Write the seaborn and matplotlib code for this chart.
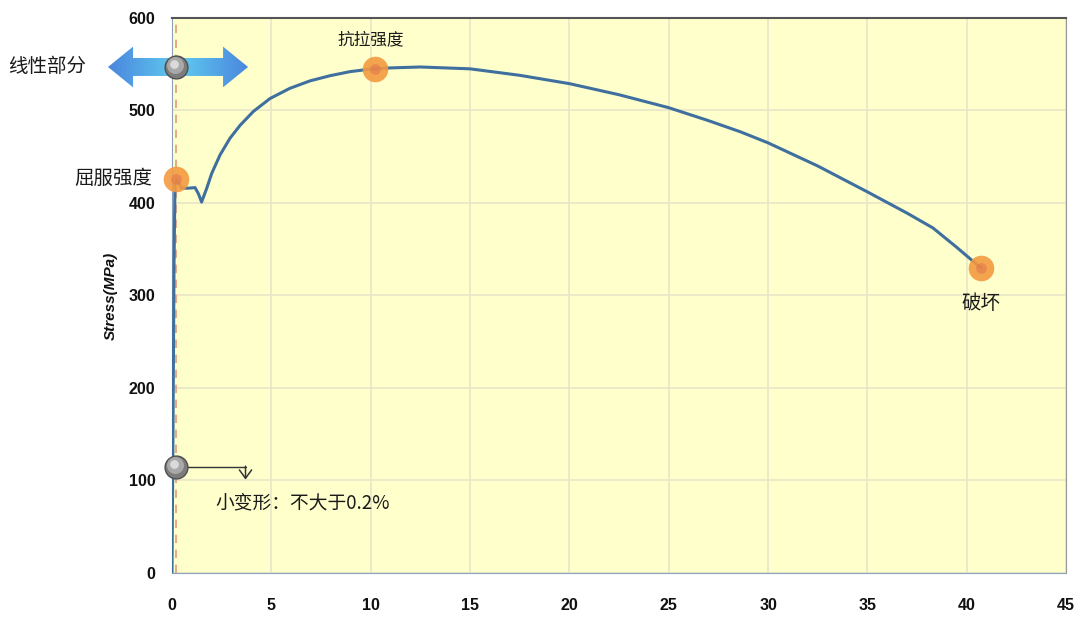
import numpy as np
import matplotlib
matplotlib.use("Agg")
import matplotlib.pyplot as plt
from matplotlib.patches import Polygon
from matplotlib.colors import LinearSegmentedColormap
import seaborn as sns

# Curve: strain (%) vs stress (MPa)
strain = [0, 0.05, 0.1, 0.15, 0.24, 0.49, 0.82, 1.16, 1.33, 1.49, 1.75, 2.0, 2.42, 2.92,
          3.43, 4.1, 4.94, 5.94, 6.95, 7.96, 8.97, 10.1, 11.0, 12.5, 15, 17.5, 20, 22.5,
          25, 27, 28.6, 30, 32.5, 35, 37, 38.3, 39.5, 40.7]
stress = [0, 150, 330, 420, 425, 416, 416, 416.6, 410, 401, 416, 432, 452, 470,
          484, 499, 513, 524, 532, 537.6, 542, 545, 546, 547, 545, 538, 529, 517,
          503, 489, 477, 465, 440, 412, 389, 373, 352, 330]

# Key points
yield_pt = (0.2, 426)
uts_pt = (10.2, 545)
break_pt = (40.7, 330)
linear_pt = (0.2, 547)
small_pt = (0.2, 115)

xticks = list(range(0, 50, 5))
yticks = list(range(0, 700, 100))

sns.set_style("whitegrid")
plt.rcParams['font.family'] = ['Noto Sans CJK SC', 'DejaVu Sans']

fig = plt.figure(figsize=(10.79, 6.19), dpi=100)
ax = fig.add_axes([0.1594, 0.0743, 0.8286, 0.8967])
ax.set_facecolor('#FFFFCC')

sns.lineplot(x=strain, y=stress, sort=False, estimator=None, color='#3F6F9F',
             linewidth=2.2, ax=ax, zorder=4)

ax.set_xlim(0, 45)
ax.set_ylim(0, 600)
ax.set_xticks(xticks)
ax.set_yticks(yticks)
ax.grid(True, color='#E8E5C8', linewidth=1.2)
ax.tick_params(axis='x', length=0, pad=18)
ax.tick_params(axis='y', length=0, pad=12)
for lab in ax.get_xticklabels() + ax.get_yticklabels():
    lab.set_fontfamily(['Liberation Sans Narrow', 'Liberation Sans'])
    lab.set_fontweight('bold')
    lab.set_fontsize(11.5)
    lab.set_color('#111111')
ax.set_ylabel('Stress(MPa)', fontsize=11, fontweight='bold', fontstyle='italic',
              family=['Liberation Sans', 'DejaVu Sans'], labelpad=8, color='#111111')

ax.spines['top'].set_color('#555555')
ax.spines['top'].set_linewidth(1.5)
ax.spines['right'].set_color('#999999')
ax.spines['left'].set_color('#8AA2BA')
ax.spines['bottom'].set_color('#8AA2BA')

# dashed reference line
ax.axvline(0.2, color='#E59A80', linestyle=(0, (5, 4)), linewidth=1.2, zorder=3)

# gradient double arrow for the linear part
xt0, xb0, xb1, xt1 = -3.22, -1.96, 2.57, 3.83
yc, hs, hh = linear_pt[1], 9.7, 22
verts = [(xt0, yc), (xb0, yc + hh), (xb0, yc + hs), (xb1, yc + hs), (xb1, yc + hh),
         (xt1, yc), (xb1, yc - hh), (xb1, yc - hs), (xb0, yc - hs), (xb0, yc - hh)]
arrow = Polygon(verts, closed=True, facecolor='none', edgecolor='none',
                transform=ax.transData, clip_on=False)
ax.add_patch(arrow)
cmap = LinearSegmentedColormap.from_list('arr', ['#4A86DE', '#5FCBEF', '#4A86DE'])
grad = np.linspace(0, 1, 256).reshape(1, -1)
im = ax.imshow(grad, extent=[xt0, xt1, yc - hh, yc + hh], aspect='auto', cmap=cmap,
               zorder=5, interpolation='bilinear')
im.set_clip_path(arrow)
im.set_clip_box(fig.bbox)
ax.set_xlim(0, 45)
ax.set_ylim(0, 600)


def sphere(x, y):
    ax.scatter([x], [y], s=270, color='#7C7C7C', edgecolor='#505050', linewidth=1,
               zorder=7, clip_on=False)
    ax.scatter([x - 0.05], [y + 2], s=150, color='#A8A8A8', linewidth=0, zorder=7,
               clip_on=False)
    ax.scatter([x - 0.1], [y + 3], s=40, color='#DADADA', linewidth=0, zorder=7,
               clip_on=False)


def dot(x, y):
    ax.scatter([x], [y], s=340, color='#F39A3F', alpha=0.9, linewidth=0, zorder=6,
               clip_on=False)
    ax.scatter([x], [y], s=60, color='#E07050', alpha=0.5, linewidth=0, zorder=6,
               clip_on=False)


sphere(*linear_pt)
sphere(*small_pt)
for p in (yield_pt, uts_pt, break_pt):
    dot(*p)

# small deformation pointer
ax.plot([small_pt[0], 3.7], [small_pt[1], small_pt[1]], color='#333333', linewidth=1,
        zorder=5)
ax.annotate('', xy=(3.7, 101), xytext=(3.7, small_pt[1] + 0.5),
            arrowprops=dict(arrowstyle='->, head_length=0.3, head_width=0.22',
                            mutation_scale=20, color='#333333', lw=1.1,
                            shrinkA=0, shrinkB=0), zorder=5)

txt = dict(color='#1A1A1A', zorder=8)
ax.text(-4.3, linear_pt[1], '线性部分', fontsize=14, ha='right', va='center',
        clip_on=False, **txt)
ax.text(-1.0, yield_pt[1], '屈服强度', fontsize=14, ha='right', va='center',
        clip_on=False, **txt)
ax.text(10.0, 576, '抗拉强度', fontsize=12, ha='center', va='center', **txt)
ax.text(40.7, 291, '破坏', fontsize=14, ha='center', va='center', **txt)
ax.text(2.17, 76, '小变形：不大于0.2%', fontsize=13.5, ha='left', va='center', **txt)

fig.savefig('out.png', dpi=100)
